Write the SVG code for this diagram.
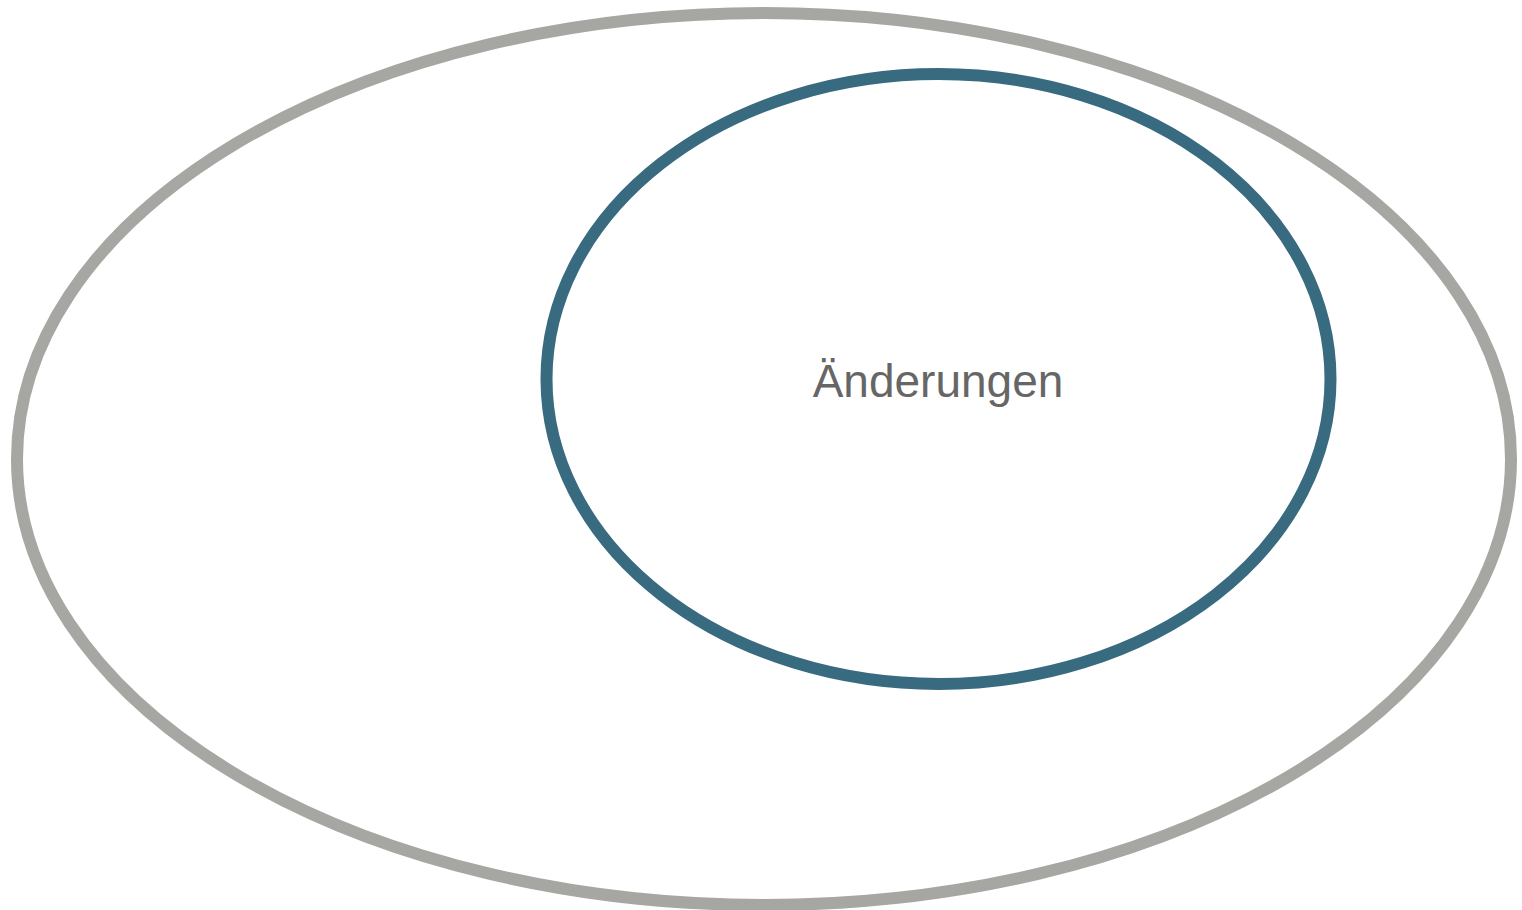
<svg xmlns="http://www.w3.org/2000/svg" width="1522" height="910" viewBox="0 0 1522 910">
<style>
.outer{fill:none;stroke:#a6a7a2;stroke-width:12}
.inner{fill:none;stroke:#386a80;stroke-width:12}
.lbl{font-family:"Liberation Sans",Arial,sans-serif;font-size:46px;fill:#666666;text-anchor:middle}
</style>
<rect width="1522" height="910" fill="#ffffff"/>
<g id="outer-set">
<ellipse class="outer" cx="764" cy="459" rx="747" ry="446"/>
</g>
<g id="aenderungen">
<ellipse class="inner" cx="938.5" cy="379" rx="392" ry="305"/>
<text class="lbl" x="938" y="397">Änderungen</text>
</g>
<g id="connectors"/>
</svg>
